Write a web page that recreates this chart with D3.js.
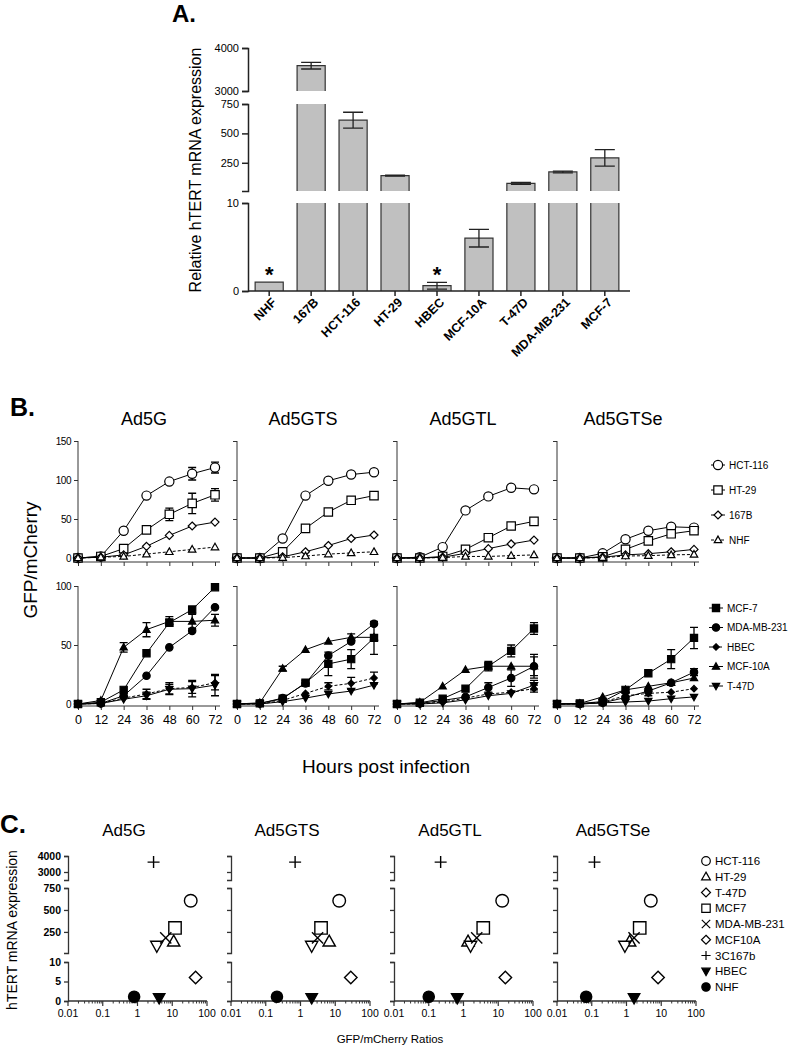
<!DOCTYPE html>
<html><head><meta charset="utf-8">
<script src="https://cdn.jsdelivr.net/npm/d3@7"></script>
<style>
body{margin:0;background:#fff}
svg{display:block}
text{font-family:"Liberation Sans",Arial,sans-serif;fill:#000}
</style>
</head><body>
<svg id="chart" width="788" height="1050"></svg>
<script>
// ================= DATA =================
// Panel A
const cellLinesA = ["NHF","167B","HCT-116","HT-29","HBEC","MCF-10A","T-47D","MDA-MB-231","MCF-7"];
const hTERTvalues = [1, 3590, 612, 140, 0.6, 6, 75, 172, 292];
const hTERTerrors = [0, 78, 68, 4, 0.38, 1, 8, 7, 70];
const asteriskLines = ["NHF","HBEC"];
const aSegDomains = [[0,10],[10,750],[3000,4000]];
const aTickValues = [[0,10],[250,500,750],[3000,4000]];

// Panel B
const hours = [0,12,24,36,48,60,72];
const vectors = ["Ad5G","Ad5GTS","Ad5GTL","Ad5GTSe"];
const topLines = ["HCT-116","HT-29","167B","NHF"];
const bottomLines = ["MCF-7","MDA-MB-231","HBEC","MCF-10A","T-47D"];
const topTicks = [0,50,100,150];
const bottomTicks = [0,50,100];

// values indexed [vector][hour]
const hct116 = [[0,2,35,80,98,108,116],[0,0,25,80,99,107,110],[0,1,14,61,79,90,88],[0,0,6,24,35,40,39]];
const hct116Err = [[0,0,0,0,0,8,7],[0,0,0,0,0,3,0],[0,0,0,0,0,0,0],[0,0,0,0,0,0,0]];
const ht29 = [[0,2,12,36,56,70,81],[0,0,8,38,59,74,80],[0,0,2,11,26,41,47],[0,0,1.5,11,22,31,35]];
const ht29Err = [[0,0,0,3,8,13,8],[0,0,0,0,0,0,0],[0,0,0,0,0,0,0],[0,0,0,0,0,0,0]];
const l167b = [[0,1,4,15,29,41,46],[0,0,1.5,8,16,25,29.5],[0,0,1,6,12,18,23],[0,0,1,4,5.5,8,11]];
const l167bErr = [[0,0,0,0,0,0,0],[0,0,0,0,0,0,0],[0,0,0,0,0,0,0],[0,0,0,0,0,0,0]];
const nhf = [[0,1,2,5,8,11,14],[0,0,0.5,2.5,5,6.5,8],[0,0,0.5,2,2,3,4],[0,0,0.5,2.5,3,4,4.5]];
const nhfErr = [[0,0,0,0,0,0,0],[0,0,0,0,0,0,0],[0,0,0,0,0,0,0],[0,0,0,0,0,0,0]];

const mcf7 = [[0,1.5,12,43,69,80,99],[0,0.5,4.5,18,34,38,56],[0,1,4.5,13,32,45,64],[0,0.5,2,12,26,38,56]];
const mcf7Err = [[0,0,0,0,3,3,0],[0,0,0,2,10,8,14],[0,0,0,0,4,5,5],[0,0,0,0,0,8,9]];
const mda = [[0,0.5,7,24,48,62,82],[0,0.5,5,17.5,41,53,68],[0,0.5,3,6,14,22,32],[0,0,1,5.5,11,18,27]];
const mdaErr = [[0,0,0,0,0,0,0],[0,0,0,0,0,0,0],[0,0,0,0,4,7,10],[0,0,0,0,0,0,3]];
const hbec = [[0,0.5,5,8.5,13,14,18],[0,0,3,9,15,17.5,22],[0,0,1.7,5,8.5,10,13],[0,0,1.7,7,9,10,13]];
const hbecErr = [[0,0,0,4,5,5,6],[0,0,0,0,3,5,5],[0,0,0,0,0,0,3],[0,0,0,0,2,0,0]];
const mcf10a = [[0,3,48,63,70,70,71],[0,1,30,46,53,56.5,56.5],[0,1.4,15,29,32,32,32],[0,0.5,6,12,15,18,22]];
const mcf10aErr = [[0,0,4,6,4,6,5],[0,0,2,0,0,3,0],[0,0,0,0,0,0,8],[0,0,0,0,0,0,0]];
const t47d = [[0,0.5,4,7,12.5,13,16],[0,0,2,5,8.5,11,16],[0,0,1,3.5,7,9,16],[0,0,1,1.7,2.5,4.5,6]];
const t47dErr = [[0,0,0,3,4,7,9],[0,0,0,0,0,0,0],[0,0,0,0,0,0,4],[0,0,0,0,0,0,0]];

// Panel C
const cLines = ["HCT-116","HT-29","T-47D","MCF7","MDA-MB-231","MCF10A","3C167b","HBEC","NHF"];
const cExpression = [605, 140, 92, 295, 182, 6, 3620, 0.8, 1.1];
const ratiosAd5G   = [34, 11, 3.6, 12, 6.5, 47, 2.9, 4.2, 0.8];
const ratiosAd5GTS = [13, 6.7, 2.1, 3.9, 3.1, 28, 0.7, 2.1, 0.21];
const ratiosAd5GTL = [13, 1.35, 1.6, 3.7, 2.4, 16, 0.22, 0.66, 0.1];
const ratiosAd5GTSe= [5, 1.23, 0.9, 2.4, 1.65, 8.1, 0.12, 1.65, 0.069];
const cSegDomains = [[0,10],[10,750],[2500,4000]];
const cTickValues = [[0,5,10],[250,500,750],[3000,4000]];
const logTicks = [0.01,0.1,1,10,100];

// ================= STYLES / LAYOUT =================
const svg = d3.select("#chart");

function markerPath(type, s){
  const p = d3.path();
  switch(type){
    case "circle": p.moveTo(s,0); p.arc(0,0,s,0,2*Math.PI); break;
    case "square": p.rect(-s,-s,2*s,2*s); break;
    case "diamond": p.moveTo(0,-s*1.25);p.lineTo(s*1.25,0);p.lineTo(0,s*1.25);p.lineTo(-s*1.25,0);p.closePath(); break;
    case "triangle": p.moveTo(0,-s*1.15);p.lineTo(s*1.1,s*0.8);p.lineTo(-s*1.1,s*0.8);p.closePath(); break;
    case "triangleDown": p.moveTo(0,s*1.15);p.lineTo(s*1.1,-s*0.8);p.lineTo(-s*1.1,-s*0.8);p.closePath(); break;
    case "cross": p.moveTo(-s,-s);p.lineTo(s,s);p.moveTo(s,-s);p.lineTo(-s,s); break;
    case "plus": p.moveTo(-s,0);p.lineTo(s,0);p.moveTo(0,-s);p.lineTo(0,s); break;
  }
  return p.toString();
}
function drawMarker(g, st, x, y, sw){
  const open = (st.shape==="cross"||st.shape==="plus");
  g.append("path").attr("d", markerPath(st.shape, st.size))
    .attr("transform",`translate(${x},${y})`)
    .attr("fill", open ? "none" : (st.filled ? "#000" : "#fff"))
    .attr("stroke","#000").attr("stroke-width", sw||1.2);
}

// ---------------- Panel A ----------------
const gA = svg.append("g");
gA.append("text").attr("x",172).attr("y",22).attr("font-size",24).attr("font-weight","bold").text("A.");
const aX = d3.scaleBand().domain(cellLinesA).range([248,626]).paddingInner(0.33).paddingOuter(0.17);
const aRanges = [[291,203],[191,104],[91,48]];
const aScales = aSegDomains.map((d,i)=>d3.scaleLinear().domain(d).range(aRanges[i]));

aScales.forEach((sc,i)=>{
  const d0 = aSegDomains[i][0], d1 = aSegDomains[i][1];
  cellLinesA.forEach((c,j)=>{
    const v = hTERTvalues[j];
    if (v <= d0) return;
    const top = Math.min(v,d1);
    const x = aX(c), w = aX.bandwidth(), yT = sc(top), yB = sc(d0);
    gA.append("rect").attr("x",x).attr("y",yT).attr("width",w).attr("height",yB-yT).attr("fill","#c0c0c0");
    let dpath = `M${x},${yB}V${yT}`;
    if (v <= d1) dpath += `H${x+w}`; else dpath += `M${x+w},${yT}`;
    dpath += `V${yB}`;
    gA.append("path").attr("d",dpath).attr("fill","none").attr("stroke","#333").attr("stroke-width",1.2);
  });
});
cellLinesA.forEach((c,j)=>{
  const v = hTERTvalues[j], e = hTERTerrors[j];
  if (!e) return;
  const i = aSegDomains.findIndex(d=>v>=d[0] && v<=d[1]);
  const sc = aScales[i];
  const cx = aX(c)+aX.bandwidth()/2;
  const y1 = sc(v+e), y2 = sc(v-e);
  gA.append("path").attr("d",`M${cx},${y1}V${y2}M${cx-10},${y1}H${cx+10}M${cx-10},${y2}H${cx+10}`)
    .attr("stroke","#222").attr("stroke-width",1.3).attr("fill","none");
});
aScales.forEach((sc,i)=>{
  const ax = gA.append("g").attr("transform","translate(248,0)")
    .call(d3.axisLeft(sc).tickValues(aTickValues[i]).tickSize(6).tickSizeOuter(6).tickFormat(d3.format("d")));
  ax.selectAll("path,line").attr("stroke","#222").attr("stroke-width",1.5);
  ax.selectAll("text").attr("font-size",11).attr("fill","#333").attr("font-family",'"Liberation Sans",Arial,sans-serif');
});
gA.append("line").attr("x1",248).attr("x2",630).attr("y1",291).attr("y2",291).attr("stroke","#222").attr("stroke-width",1.5);
cellLinesA.forEach(c=>{
  const cx = aX(c)+aX.bandwidth()/2;
  gA.append("line").attr("x1",cx).attr("x2",cx).attr("y1",291).attr("y2",296).attr("stroke","#222").attr("stroke-width",1.5);
  gA.append("text").attr("transform",`translate(${cx+5},${300}) rotate(-45)`).attr("text-anchor","end")
    .attr("dy","0.35em").attr("font-size",12.5).attr("font-weight","bold").text(c);
});
asteriskLines.forEach(c=>{
  const cx = aX(c)+aX.bandwidth()/2;
  gA.append("text").attr("x",cx).attr("y",282).attr("text-anchor","middle").attr("font-size",22).attr("font-weight","bold").text("*");
});
gA.append("text").attr("transform","translate(201,170) rotate(-90)").attr("text-anchor","middle").attr("font-size",16)
  .text("Relative hTERT mRNA expression");

// ---------------- Panel B ----------------
const gB = svg.append("g");
gB.append("text").attr("x",10).attr("y",416).attr("font-size",25).attr("font-weight","bold").text("B.");
const bX0 = [78,237,397,557], bW = 137;
const rowTop = {y0:558, y1:441, max:150, ticks:topTicks, axisY:562};
const rowBot = {y0:704, y1:586, max:100, ticks:bottomTicks, axisY:706};
const topSeries = [
  {name:"HCT-116", values:hct116, errors:hct116Err, st:{shape:"circle",filled:false,size:4.6}},
  {name:"HT-29", values:ht29, errors:ht29Err, st:{shape:"square",filled:false,size:4.2}},
  {name:"167B", values:l167b, errors:l167bErr, st:{shape:"diamond",filled:false,size:3.2}},
  {name:"NHF", values:nhf, errors:nhfErr, st:{shape:"triangle",filled:false,size:3.4}, dash:"3,2"}
];
const botSeries = [
  {name:"MCF-7", values:mcf7, errors:mcf7Err, st:{shape:"square",filled:true,size:3.6}},
  {name:"MDA-MB-231", values:mda, errors:mdaErr, st:{shape:"circle",filled:true,size:3.7}},
  {name:"HBEC", values:hbec, errors:hbecErr, st:{shape:"diamond",filled:true,size:2.6}, dash:"3,2"},
  {name:"MCF-10A", values:mcf10a, errors:mcf10aErr, st:{shape:"triangle",filled:true,size:3.3}},
  {name:"T-47D", values:t47d, errors:t47dErr, st:{shape:"triangleDown",filled:true,size:3.3}}
];

function drawRow(row, series, showXLabels){
  vectors.forEach((vec,vi)=>{
    const x0 = bX0[vi];
    const xs = d3.scaleLinear().domain([0,72]).range([x0,x0+bW]);
    const ys = d3.scaleLinear().domain([0,row.max]).range([row.y0,row.y1]);
    const g = gB.append("g");
    const yax = g.append("g").attr("transform",`translate(${x0},0)`)
      .call(d3.axisLeft(ys).tickValues(row.ticks).tickSize(4).tickSizeOuter(0));
    yax.select(".domain").remove();
    yax.selectAll("line").attr("stroke","#333");
    if (vi===0) yax.selectAll("text").attr("font-size",10).attr("fill","#333").attr("letter-spacing","-0.5").attr("font-family",'"Liberation Sans",Arial,sans-serif');
    else yax.selectAll("text").remove();
    g.append("line").attr("x1",x0).attr("x2",x0).attr("y1",row.y1).attr("y2",row.axisY).attr("stroke","#333").attr("stroke-width",1);
    g.append("line").attr("x1",x0).attr("x2",x0+bW+5).attr("y1",row.axisY).attr("y2",row.axisY).attr("stroke","#333").attr("stroke-width",1);
    const xax = g.append("g").attr("transform",`translate(0,${row.axisY})`)
      .call(d3.axisBottom(xs).tickValues(hours).tickSize(4).tickSizeOuter(0));
    xax.select(".domain").remove();
    xax.selectAll("line").attr("stroke","#333");
    if (showXLabels) xax.selectAll("text").attr("font-size",12.5).attr("dy","0.9em").attr("font-family",'"Liberation Sans",Arial,sans-serif');
    else xax.selectAll("text").remove();
    series.forEach(s=>{
      const line = d3.line().x((d,i)=>xs(hours[i])).y(d=>ys(d));
      g.append("path").attr("d",line(s.values[vi])).attr("fill","none").attr("stroke","#000").attr("stroke-width",1)
        .attr("stroke-dasharray",s.dash||null);
    });
    series.forEach(s=>{
      s.errors[vi].forEach((e,i)=>{
        if (!e) return;
        const v = s.values[vi][i], cx = xs(hours[i]);
        const y1 = ys(v+e), y2 = ys(Math.max(v-e,0));
        g.append("path").attr("d",`M${cx},${y1}V${y2}M${cx-4},${y1}H${cx+4}M${cx-4},${y2}H${cx+4}`)
          .attr("stroke","#000").attr("stroke-width",1.3).attr("fill","none");
      });
    });
    series.forEach(s=>{
      s.values[vi].forEach((v,i)=>drawMarker(g, s.st, xs(hours[i]), ys(v), 1.2));
    });
  });
}
drawRow(rowTop, topSeries, false);
drawRow(rowBot, botSeries, true);

vectors.forEach((vec,vi)=>{
  gB.append("text").attr("x",bX0[vi]+66).attr("y",425).attr("text-anchor","middle").attr("font-size",18).text(vec);
});
topSeries.forEach((s,i)=>{
  const y = 465 + i*25;
  gB.append("line").attr("x1",711).attr("x2",725).attr("y1",y).attr("y2",y).attr("stroke","#000").attr("stroke-dasharray",s.dash||null);
  drawMarker(gB, s.st, 718, y, 1.2);
  gB.append("text").attr("x",729).attr("y",y).attr("dy","0.35em").attr("font-size",10).text(s.name);
});
botSeries.forEach((s,i)=>{
  const y = 608 + i*19.5;
  gB.append("line").attr("x1",709).attr("x2",723).attr("y1",y).attr("y2",y).attr("stroke","#000").attr("stroke-dasharray",s.dash||null);
  drawMarker(gB, s.st, 716, y, 1.2);
  gB.append("text").attr("x",727).attr("y",y).attr("dy","0.35em").attr("font-size",10).text(s.name);
});
gB.append("text").attr("transform","translate(37,560) rotate(-90)").attr("text-anchor","middle").attr("font-size",19).text("GFP/mCherry");
gB.append("text").attr("x",386).attr("y",773).attr("text-anchor","middle").attr("font-size",19).text("Hours post infection");

// ---------------- Panel C ----------------
const gC = svg.append("g");
gC.append("text").attr("x",0).attr("y",833).attr("font-size",26).attr("font-weight","bold").text("C.");
const cX0 = [68,231,394,557], cW = 139;
const cRanges = [[1001,962],[953,888],[880,856]];
const cScales = cSegDomains.map((d,i)=>d3.scaleLinear().domain(d).range(cRanges[i]));
const cPlotStyles = [
  {shape:"circle",filled:false,size:6.3},
  {shape:"triangle",filled:false,size:5.6},
  {shape:"triangleDown",filled:false,size:5.6},
  {shape:"square",filled:false,size:6.2},
  {shape:"cross",filled:false,size:5.6},
  {shape:"diamond",filled:false,size:5},
  {shape:"plus",filled:false,size:6},
  {shape:"triangleDown",filled:true,size:5.2},
  {shape:"circle",filled:true,size:5.6}
];
const cLegendStyles = [
  {shape:"circle",filled:false,size:4.3},
  {shape:"triangle",filled:false,size:4},
  {shape:"diamond",filled:false,size:3.6},
  {shape:"square",filled:false,size:4.2},
  {shape:"cross",filled:false,size:4.2},
  {shape:"diamond",filled:false,size:3.6},
  {shape:"plus",filled:false,size:4.6},
  {shape:"triangleDown",filled:true,size:3.8},
  {shape:"circle",filled:true,size:4.2}
];
const ratiosAll = [ratiosAd5G, ratiosAd5GTS, ratiosAd5GTL, ratiosAd5GTSe];
function cY(v){
  const i = cSegDomains.findIndex(d=>v>=d[0] && v<=d[1]);
  return cScales[i](v);
}
vectors.forEach((vec,vi)=>{
  const x0 = cX0[vi];
  const g = gC.append("g");
  const xs = d3.scaleLog().domain([0.01,100]).range([x0,x0+cW]);
  cScales.forEach((sc,i)=>{
    const ax = g.append("g").attr("transform",`translate(${x0},0)`)
      .call(d3.axisLeft(sc).tickValues(cTickValues[i]).tickSize(4).tickSizeOuter(4).tickFormat(d3.format("d")));
    ax.selectAll("path,line").attr("stroke","#333").attr("stroke-width",1.3);
    if (vi===0) ax.selectAll("text").attr("font-size",10.5).attr("font-weight","bold")
      .attr("font-family",'"Liberation Sans Narrow","Liberation Sans",Arial,sans-serif').attr("fill","#222");
    else ax.selectAll("text").remove();
  });
  g.append("line").attr("x1",x0).attr("x2",x0+cW).attr("y1",1001).attr("y2",1001).attr("stroke","#333").attr("stroke-width",1.3);
  const minor = [];
  for (let k=-2;k<2;k++) for (let m=2;m<10;m++) minor.push(m*Math.pow(10,k));
  minor.forEach(t=>g.append("line").attr("x1",xs(t)).attr("x2",xs(t)).attr("y1",1001).attr("y2",1003.5).attr("stroke","#333"));
  logTicks.forEach(t=>{
    g.append("line").attr("x1",xs(t)).attr("x2",xs(t)).attr("y1",1001).attr("y2",1006).attr("stroke","#333").attr("stroke-width",1.2);
    g.append("text").attr("x",xs(t)).attr("y",1017).attr("text-anchor","middle").attr("font-size",10.5).text(String(t));
  });
  cLines.forEach((c,j)=>{
    drawMarker(g, cPlotStyles[j], xs(ratiosAll[vi][j]), cY(cExpression[j]), 1.4);
  });
  g.append("text").attr("x",x0+56).attr("y",836).attr("text-anchor","middle").attr("font-size",17).text(vec);
});
cLines.forEach((c,i)=>{
  const y = 861 + i*15.75;
  drawMarker(gC, cLegendStyles[i], 706, y, 1.2);
  gC.append("text").attr("x",715).attr("y",y).attr("dy","0.35em").attr("font-size",11.5)
    .attr("font-family",'Lato,"Open Sans",sans-serif').attr("fill","#222").text(c);
});
gC.append("text").attr("transform","translate(17,930) rotate(-90)").attr("text-anchor","middle").attr("font-size",14).text("hTERT mRNA expression");
gC.append("text").attr("x",390).attr("y",1043).attr("text-anchor","middle").attr("font-size",11.5).text("GFP/mCherry Ratios");
</script>
</body></html>
